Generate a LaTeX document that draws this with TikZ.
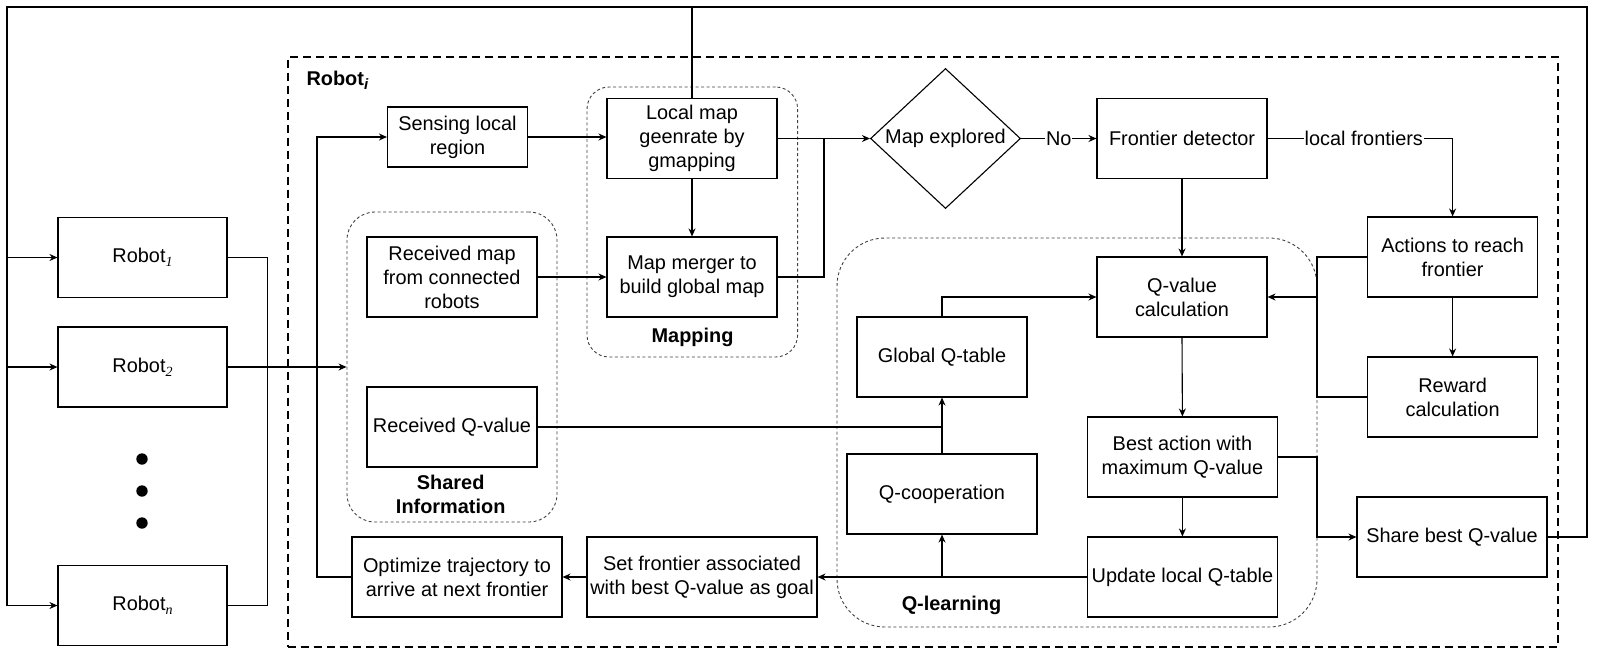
\documentclass[tikz,border=0pt]{standalone}
\usepackage{fontspec}
\setmainfont{Liberation Sans}
\newfontfamily\subserif{Liberation Serif}
\usetikzlibrary{shapes.geometric,arrows.meta}
\newcommand{\rsub}[1]{\raisebox{-4pt}{\fontsize{14}{14}\selectfont\subserif\itshape #1}}
\begin{document}
\begin{tikzpicture}[x=1pt,y=-1pt,
 every node/.style={font=\fontsize{19.9}{23.9}\selectfont},
 box/.style={draw, line width=1.1pt, inner sep=2pt, align=center},
 grp/.style={draw=black!75, line width=0.9pt, dash pattern=on 3pt off 2.5pt, rectangle, inner sep=0pt},
 arr/.style={line width=1.1pt, -{Stealth[length=8pt,width=7pt]}},
 ln/.style={line width=1.1pt},
 lbl/.style={fill=white, inner sep=1pt},
 ttl/.style={font=\fontsize{19.9}{23.9}\selectfont\bfseries, align=center}
]
\useasboundingbox (0,0) rectangle (1597,649);

% container and groups
\node[draw, line width=2pt, dash pattern=on 8pt off 5pt, rectangle, inner sep=0pt,
      minimum width=1270.2, minimum height=590] (roboti) at (922.6,352) {};
\node[grp, rounded corners=22pt, minimum width=210.6, minimum height=270] (mapg) at (692.3,222) {};
\node[grp, rounded corners=28pt, minimum width=210, minimum height=310] (sharedg) at (452,367) {};
\node[grp, rounded corners=48pt, minimum width=480, minimum height=389] (qg) at (1077,432.5) {};

% titles
\node[ttl, anchor=west] (tri) at (303,80) {Robot\raisebox{-4pt}{\fontsize{15}{15}\selectfont\bfseries\itshape i}};
\node[ttl] (tmap) at (692.5,337) {Mapping};
\node[ttl] (tshared) at (450.7,494) {Shared\\Information};
\node[ttl] (tq) at (951.5,605) {Q-learning};

% robots
\node[box, minimum width=169, minimum height=80] (r1) at (142.5,257.5) {Robot\rsub{1}};
\node[box, minimum width=169, minimum height=80] (r2) at (142.5,367) {Robot\rsub{2}};
\node[box, minimum width=169, minimum height=80] (rn) at (142.5,605.5) {Robot\rsub{n}};
\fill (142,459) circle (5.7);
\fill (142,491) circle (5.7);
\fill (142,523) circle (5.7);

% nodes
\node[box, minimum width=140, minimum height=60] (sense) at (457.5,137) {Sensing local\\region};
\node[box, minimum width=170, minimum height=80] (local) at (692,138.5) {Local map\\geenrate by\\gmapping};
\node[box, minimum width=170, minimum height=80] (merge) at (692,277) {Map merger to\\build global map};
\node[box, minimum width=170, minimum height=80] (recmap) at (452,277) {Received map\\from connected\\robots};
\node[box, minimum width=170, minimum height=80] (recq) at (452,427) {Received Q-value};
\node[draw, diamond, line width=1.1pt, inner sep=0pt, aspect=1.07, minimum width=150, minimum height=140] (dia) at (945.5,138.5) {Map explored};
\node[box, minimum width=170, minimum height=80] (front) at (1182,138.5) {Frontier detector};
\node[box, minimum width=170, minimum height=80] (qcalc) at (1182,297) {Q-value\\calculation};
\node[box, minimum width=170, minimum height=80] (act) at (1452.6,257) {Actions to reach\\frontier};
\node[box, minimum width=170, minimum height=80] (reward) at (1452.6,397) {Reward\\calculation};
\node[box, minimum width=170, minimum height=80] (gq) at (942,357) {Global Q-table};
\node[box, minimum width=190, minimum height=80] (qcoop) at (942,494) {Q-cooperation};
\node[box, minimum width=190, minimum height=80] (best) at (1182.4,457) {Best action with\\maximum Q-value};
\node[box, minimum width=190, minimum height=80] (update) at (1182.4,577) {Update local Q-table};
\node[box, minimum width=190, minimum height=80] (share) at (1452,537) {Share best Q-value};
\node[box, minimum width=230, minimum height=80] (setf) at (702,577) {Set frontier associated\\with best Q-value as goal};
\node[box, minimum width=210, minimum height=80] (opt) at (457,577) {Optimize trajectory to\\arrive at next frontier};

% helper coordinates
\coordinate (TL) at (7,7);
\coordinate (TR) at (1587,7);
\coordinate (J) at (824,138.5);
\coordinate (K) at (1317,257);

% outer feedback loop
\draw[arr] (share.east) -- (share.east -| TR) -- (TR) -- (TL) |- (rn.west);
\draw[arr] (TL |- r1.west) -- (r1.west);
\draw[arr] (TL |- r2.west) -- (r2.west);
\draw[ln] (local.north |- TL) -- (local.north);

% robots to shared information
\draw[ln] (r1.east) -- ++(40,0) |- (rn.east);
\draw[arr] (r2.east) -- (sharedg.west);

% main flow
\draw[arr] (opt.west) -- ++(-34.5,0) |- (sense.west);
\draw[arr] (sense.east) -- (sense.east -| local.west);
\draw[arr] (local.south) -- (merge.north);
\draw[arr] (recmap.east) -- (merge.west);
\draw[arr] (local.east) -- (dia.west);
\draw[ln] (merge.east) -| (J);
\draw[arr] (dia.east) -- node[lbl]{No} (front.west);
\draw[arr] (front.east) -- node[lbl, pos=0.52]{local frontiers} (front.east -| act.north) -- (act.north);
\draw[arr] (front.south) -- (qcalc.north);
\draw[ln] (act.west) -- (K) |- (reward.west);
\draw[arr] (K |- qcalc.east) -- (qcalc.east);
\draw[arr] (act.south) -- (reward.north);
\draw[arr] (gq.north) |- (qcalc.west);
\draw[arr] (qcoop.north) -- (gq.south);
\draw[ln] (recq.east) -- (recq.east -| gq.south);
\draw[arr] (qcalc.south) -- (best.north);
\draw[arr] (best.south) -- (update.north);
\draw[arr] (best.east) -- (best.east -| K) |- (share.west);
\draw[arr] (update.west) -- (setf.east);
\draw[arr] (update.west -| qcoop.south) -- (qcoop.south);
\draw[arr] (setf.west) -- (opt.east);
\end{tikzpicture}
\end{document}
